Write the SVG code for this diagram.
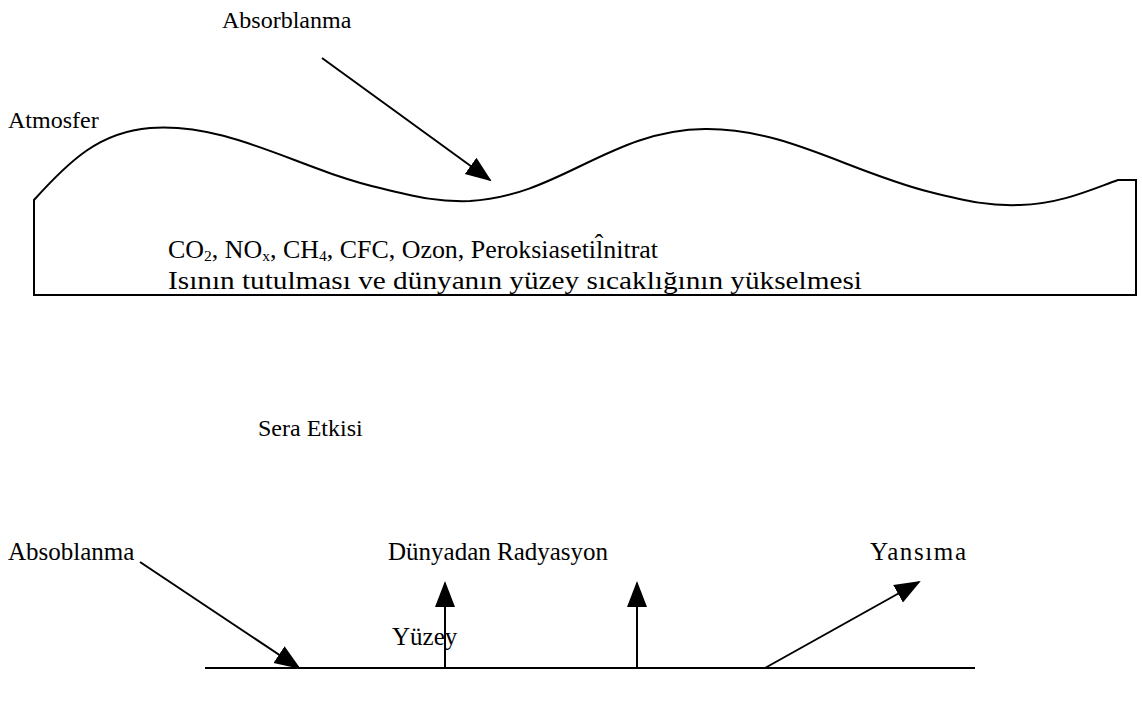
<svg xmlns="http://www.w3.org/2000/svg" width="1142" height="704" viewBox="0 0 1142 704">
<defs>
<style>
text{font-family:"Liberation Serif","Times New Roman",serif;font-size:25px;fill:#000}
.ln{fill:none;stroke:#000;stroke-width:2}
.ar{fill:none;stroke:#000;stroke-width:2;marker-end:url(#ah)}
</style>
<marker id="ah" markerUnits="userSpaceOnUse" markerWidth="26" markerHeight="22" refX="24" refY="10" orient="auto" viewBox="0 0 26 20">
<path d="M0,0 L26,10 L0,20 Z" fill="#000"/>
</marker>
</defs>
<rect width="1142" height="704" fill="#fff"/>
<g id="atmosfer">
<path class="ln" d="M34,295 L34,200 C70,160 100,132 150,128 C230,122 300,170 380,188 C420,198 440,202 470,201 C560,196 610,130 705,129 C785,128 850,172 930,192 C970,202 990,206 1020,205 C1060,204 1090,190 1118,180 L1136,180 L1136,295 Z"/>
<text x="8" y="128" style="font-size:24px">Atmosfer</text>
<text x="168" y="258" textLength="490" lengthAdjust="spacingAndGlyphs">CO<tspan font-size="15" dy="3">2</tspan><tspan dy="-3">, NO</tspan><tspan font-size="15" dy="3">x</tspan><tspan dy="-3">, CH</tspan><tspan font-size="15" dy="3">4</tspan><tspan dy="-3">, CFC, Ozon, Peroksiasetil̂nitrat</tspan></text>
<text x="168" y="289" textLength="694" lengthAdjust="spacingAndGlyphs" style="font-size:25px">Isının tutulması ve dünyanın yüzey sıcaklığının yükselmesi</text>
</g>
<g id="absorblanma-top"><text x="222" y="28" style="font-size:24px">Absorblanma</text></g>
<g id="sera"><text x="258" y="436" style="font-size:24px">Sera Etkisi</text></g>
<g id="absoblanma"><text x="8" y="560">Absoblanma</text></g>
<g id="dunyadan"><text x="388" y="560">Dünyadan Radyasyon</text></g>
<g id="yansima"><text x="870" y="560" textLength="96" lengthAdjust="spacing">Yansıma</text></g>
<g id="yuzey"><text x="392" y="645">Yüzey</text><line class="ln" x1="205" y1="668" x2="975" y2="668"/></g>
<g id="connectors">
<line class="ar" x1="322" y1="58" x2="490" y2="180"/>
<line class="ar" x1="140" y1="562" x2="299" y2="668"/>
<line class="ar" x1="445" y1="668" x2="445" y2="583"/>
<line class="ar" x1="637" y1="668" x2="637" y2="583"/>
<line class="ar" x1="765" y1="668" x2="919" y2="582"/>
</g>
</svg>
